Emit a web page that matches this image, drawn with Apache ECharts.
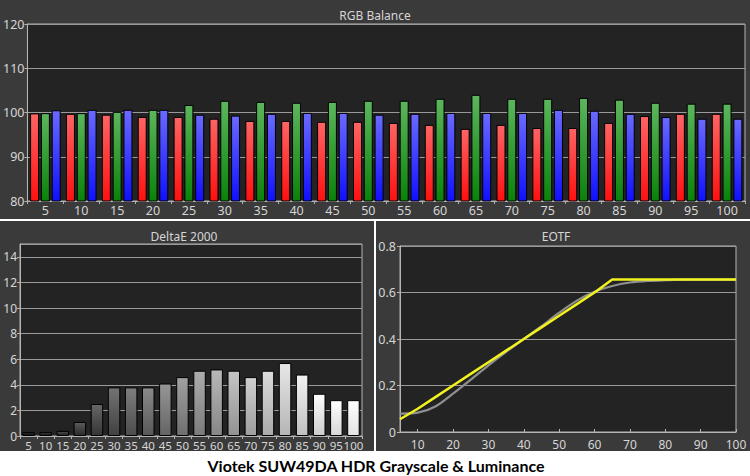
<!DOCTYPE html>
<html><head><meta charset="utf-8">
<script src="https://cdn.jsdelivr.net/npm/echarts@6/dist/echarts.min.js"></script>
<style>
html,body{margin:0;padding:0;background:#fff;}
#wrap{position:relative;width:750px;height:476px;}
.panel{position:absolute;background:#3a3a3a;}
#c{position:absolute;left:0;top:0;width:750px;height:476px;}
</style>
</head><body>
<div id="wrap">
  <div class="panel" style="left:0;top:0;width:750px;height:219px;"></div>
  <div class="panel" style="left:0;top:221px;width:374px;height:230px;"></div>
  <div class="panel" style="left:376px;top:221px;width:374px;height:230px;"></div>
  <div id="c"></div>
</div>
<script>
const categories = ['5','10','15','20','25','30','35','40','45','50','55','60','65','70','75','80','85','90','95','100'];
const redValues   = [99.8, 99.7, 99.5, 99.0, 99.0, 98.6, 98.1, 98.1, 97.9, 97.9, 97.65, 97.2, 96.3, 97.2, 96.5, 96.5, 97.65, 99.2, 99.7, 99.7];
const greenValues = [99.85, 99.85, 100.15, 100.6, 101.7, 102.65, 102.4, 102.2, 102.4, 102.65, 102.65, 103.1, 104.0, 103.1, 103.1, 103.3, 102.9, 102.2, 102.0, 102.0];
const blueValues  = [100.5, 100.6, 100.6, 100.6, 99.5, 99.3, 99.7, 99.9, 99.9, 99.5, 99.7, 99.9, 99.9, 99.9, 100.6, 100.4, 99.7, 99.0, 98.6, 98.6];
const deltaEValues = [0.3, 0.3, 0.4, 1.1, 2.5, 3.8, 3.8, 3.8, 4.1, 4.6, 5.1, 5.2, 5.1, 4.6, 5.1, 5.7, 4.8, 3.3, 2.8, 2.8];
const eotfX        = [5,10,15,20,25,30,35,40,45,50,55,60,65,70,75,80,85,90,95,100];
const eotfTarget   = [0.055,0.1,0.15,0.2,0.25,0.3,0.35,0.4,0.45,0.5,0.55,0.6,0.656,0.656,0.656,0.656,0.656,0.656,0.656,0.656];
const eotfMeasured = [0.079,0.083,0.11,0.165,0.225,0.287,0.345,0.4,0.455,0.513,0.565,0.603,0.628,0.643,0.65,0.653,0.655,0.655,0.655,0.655];
const eotfTicks    = [10,20,30,40,50,60,70,80,90,100];

const textColor = '#d6d6d6';
const axisColor = '#b4b4b4';
const splitColor = '#9a9a9a';
const font = 'Noto Sans';

function grad(top, bottom){
  return new echarts.graphic.LinearGradient(0,0,0,1,[{offset:0,color:top},{offset:1,color:bottom}]);
}
function grayGrad(i, n){
  const g = 35 + 220 * i / (n - 1);
  const t = Math.round(Math.min(255, g + 22)), b = Math.round(Math.max(0, g - 28));
  return grad('rgb('+t+','+t+','+t+')', 'rgb('+b+','+b+','+b+')');
}

const chart = echarts.init(document.getElementById('c'), null, {renderer:'svg'});

const commonLabel = {color:textColor, fontFamily:font, fontSize:12};

const option = {
  backgroundColor:'transparent',
  animation:false,
  grid:[
    {left:26, right:5, top:24, bottom:275, show:true, backgroundColor:'#232323', borderColor:axisColor, borderWidth:1},
    {left:20, right:388, top:244, bottom:40, show:true, backgroundColor:'#232323', borderColor:axisColor, borderWidth:1},
    {left:400, right:14, top:246, bottom:44, show:true, backgroundColor:'#232323', borderColor:axisColor, borderWidth:1}
  ],
  xAxis:[
    {gridIndex:0, type:'category', data:categories,
     axisLine:{lineStyle:{color:axisColor}}, axisTick:{show:true, length:3, lineStyle:{color:axisColor}},
     axisLabel:Object.assign({interval:0, margin:3}, commonLabel, {fontSize:12.5})},
    {gridIndex:1, type:'category', data:categories,
     axisLine:{lineStyle:{color:axisColor}}, axisTick:{show:true, length:3, lineStyle:{color:axisColor}},
     axisLabel:Object.assign({interval:0, margin:3}, commonLabel, {fontSize:11.5})},
    {gridIndex:2, type:'value', min:5, max:100,
     axisLine:{lineStyle:{color:axisColor}},
     axisTick:{show:true, inside:true, length:3, customValues:eotfTicks, lineStyle:{color:axisColor}},
     axisLabel:Object.assign({customValues:eotfTicks, margin:6}, commonLabel),
     splitLine:{show:false}}
  ],
  yAxis:[
    {gridIndex:0, type:'value', min:80, max:120, interval:10,
     axisLine:{show:true, lineStyle:{color:axisColor}}, axisTick:{show:true, length:3, lineStyle:{color:axisColor}},
     axisLabel:Object.assign({margin:3}, commonLabel, {fontSize:12.5}),
     splitLine:{lineStyle:{color:splitColor}}},
    {gridIndex:1, type:'value', min:0, max:15, interval:2,
     axisLine:{show:true, lineStyle:{color:axisColor}}, axisTick:{show:true, length:3, lineStyle:{color:axisColor}},
     axisLabel:Object.assign({margin:3, showMaxLabel:false}, commonLabel),
     splitLine:{lineStyle:{color:splitColor}}},
    {gridIndex:2, type:'value', min:0, max:0.8, interval:0.2,
     axisLine:{show:true, lineStyle:{color:axisColor}}, axisTick:{show:true, length:3, lineStyle:{color:axisColor}},
     axisLabel:Object.assign({margin:4}, commonLabel, {fontSize:12.5}),
     splitLine:{lineStyle:{color:splitColor}}}
  ],
  series:[
    {type:'bar', xAxisIndex:0, yAxisIndex:0, data:redValues, barWidth:9, barGap:'20%',
     itemStyle:{color:grad('#ff6464','#ff1010'), borderColor:'#000', borderWidth:1}},
    {type:'bar', xAxisIndex:0, yAxisIndex:0, data:greenValues, barWidth:9, barGap:'20%',
     itemStyle:{color:grad('#5cb65c','#0a820a'), borderColor:'#000', borderWidth:1}},
    {type:'bar', xAxisIndex:0, yAxisIndex:0, data:blueValues, barWidth:9, barGap:'20%',
     itemStyle:{color:grad('#6a6aff','#1010ff'), borderColor:'#000', borderWidth:1}},
    {type:'bar', xAxisIndex:1, yAxisIndex:1, barWidth:12.5,
     data:deltaEValues.map((v,i)=>({value:v, itemStyle:{color:grayGrad(i, deltaEValues.length)}})),
     itemStyle:{borderColor:'#000', borderWidth:1}},
    {type:'line', xAxisIndex:2, yAxisIndex:2, data:eotfX.map((x,i)=>[x, eotfMeasured[i]]),
     smooth:0.3, symbol:'none', lineStyle:{color:'#909090', width:2.2}},
    {type:'line', xAxisIndex:2, yAxisIndex:2, data:eotfX.map((x,i)=>[x, eotfTarget[i]]),
     symbol:'none', lineStyle:{color:'#f2f21e', width:2.5}}
  ],
  graphic:[
    {type:'text', x:375, y:15, style:{text:'RGB Balance', fill:textColor, font:'12px "Noto Sans"', textAlign:'center', textVerticalAlign:'middle'}},
    {type:'text', x:184, y:236, style:{text:'DeltaE 2000', fill:textColor, font:'12px "Noto Sans"', textAlign:'center', textVerticalAlign:'middle'}},
    {type:'text', x:556, y:236, style:{text:'EOTF', fill:textColor, font:'12px "Noto Sans"', textAlign:'center', textVerticalAlign:'middle'}},
    {type:'text', x:376, y:465, style:{text:'Viotek SUW49DA HDR Grayscale & Luminance', fill:'#000', font:'bold 16px Lato', textAlign:'center', textVerticalAlign:'middle'}}
  ]
};
chart.setOption(option);
</script>
</body></html>
